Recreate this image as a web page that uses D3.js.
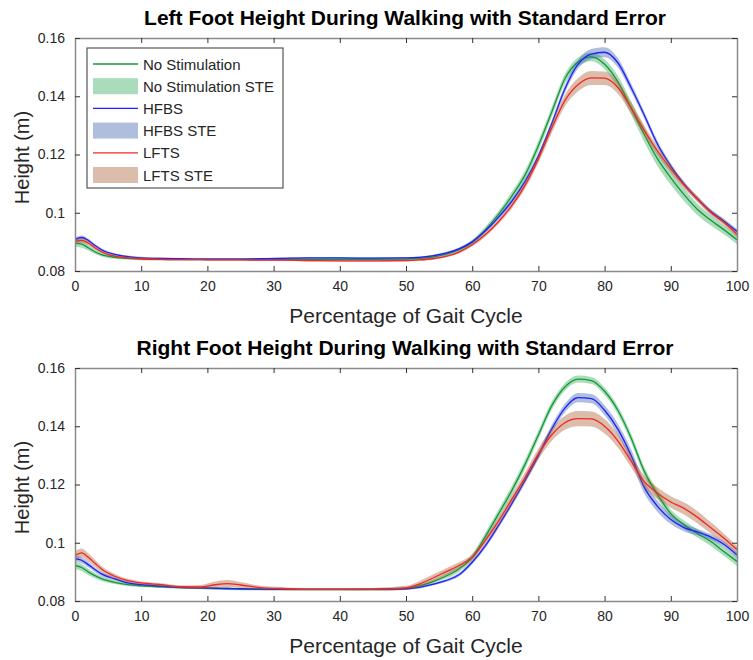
<!DOCTYPE html>
<html>
<head>
<meta charset="utf-8">
<script src="https://cdn.jsdelivr.net/npm/d3@7"></script>
<style>
  html, body { margin: 0; padding: 0; background: #fff; }
  svg { display: block; font-family: "Liberation Sans", Arial, Helvetica, sans-serif; }
</style>
</head>
<body>
<svg id="chart" width="753" height="660"></svg>
<script>
// Gait-cycle sample positions (% of cycle)
const gaitPct = [0,1,2,3,4,6,8,10,13,16,19,21,23,25,28,31,35,40,45,50,52,54,56,58,60,62,64,66,68,70,72,74,76,78,80,82,84,86,88,90,92,94,96,98,100];

// Left foot mean height (m)
const leftNoStim = [0.0895,0.0892,0.0880,0.0866,0.0856,0.0847,0.0843,0.0841,0.0840,0.0840,0.0840,0.0840,0.0840,0.0840,0.0840,0.0840,0.0840,0.0840,0.0840,0.0841,0.0843,0.0848,0.0857,0.0873,0.0899,0.0942,0.0995,0.1058,0.1130,0.1230,0.1345,0.1460,0.1518,0.1535,0.1510,0.1450,0.1360,0.1268,0.1185,0.1120,0.1062,0.1012,0.0975,0.0942,0.0907];
const leftHFBS   = [0.0908,0.0915,0.0905,0.0888,0.0873,0.0857,0.0849,0.0845,0.0843,0.0842,0.0841,0.0841,0.0841,0.0841,0.0842,0.0843,0.0845,0.0845,0.0844,0.0845,0.0847,0.0852,0.0861,0.0876,0.0900,0.0938,0.0985,0.1040,0.1108,0.1195,0.1305,0.1425,0.1510,0.1545,0.1551,0.1515,0.1430,0.1335,0.1235,0.1160,0.1098,0.1048,0.1005,0.0972,0.0936];
const leftLFTS   = [0.0900,0.0905,0.0896,0.0880,0.0866,0.0851,0.0845,0.0842,0.0840,0.0839,0.0839,0.0838,0.0838,0.0838,0.0837,0.0837,0.0836,0.0835,0.0835,0.0836,0.0838,0.0842,0.0850,0.0865,0.0890,0.0925,0.0970,0.1025,0.1095,0.1185,0.1290,0.1385,0.1440,0.1463,0.1462,0.1430,0.1360,0.1282,0.1212,0.1150,0.1095,0.1048,0.1002,0.0967,0.0925];

// Left foot standard error (m)
const leftNoStimSte = [0.0012,0.0012,0.0010,0.0008,0.0006,0.0005,0.0004,0.0004,0.0004,0.0004,0.0004,0.0004,0.0004,0.0004,0.0004,0.0004,0.0004,0.0004,0.0004,0.0004,0.0004,0.0004,0.0005,0.0006,0.0008,0.0010,0.0012,0.0014,0.0016,0.0017,0.0017,0.0016,0.0015,0.0015,0.0017,0.0020,0.0023,0.0025,0.0025,0.0024,0.0022,0.0020,0.0018,0.0016,0.0015];
const leftHFBSSte   = [0.0007,0.0007,0.0006,0.0005,0.0005,0.0004,0.0004,0.0004,0.0003,0.0003,0.0003,0.0003,0.0003,0.0003,0.0003,0.0003,0.0003,0.0003,0.0003,0.0003,0.0003,0.0004,0.0004,0.0005,0.0006,0.0007,0.0008,0.0009,0.0010,0.0011,0.0012,0.0013,0.0015,0.0017,0.0017,0.0016,0.0014,0.0012,0.0011,0.0010,0.0009,0.0008,0.0008,0.0008,0.0008];
const leftLFTSSte   = [0.0008,0.0008,0.0007,0.0006,0.0005,0.0004,0.0004,0.0004,0.0003,0.0003,0.0003,0.0003,0.0003,0.0003,0.0003,0.0003,0.0003,0.0003,0.0003,0.0003,0.0003,0.0004,0.0004,0.0005,0.0006,0.0007,0.0008,0.0010,0.0012,0.0014,0.0017,0.0020,0.0023,0.0024,0.0023,0.0021,0.0019,0.0017,0.0015,0.0013,0.0011,0.0010,0.0009,0.0009,0.0009];

// Right foot mean height (m)
const rightNoStim = [0.0922,0.0915,0.0900,0.0887,0.0877,0.0864,0.0856,0.0852,0.0849,0.0846,0.0844,0.0843,0.0842,0.0841,0.0840,0.0840,0.0840,0.0840,0.0841,0.0843,0.0852,0.0866,0.0885,0.0910,0.0950,0.1022,0.1100,0.1180,0.1270,0.1370,0.1470,0.1535,0.1562,0.1557,0.1520,0.1455,0.1360,0.1245,0.1165,0.1100,0.1062,0.1032,0.1005,0.0970,0.0936];
const rightHFBS   = [0.0945,0.0940,0.0925,0.0908,0.0893,0.0876,0.0862,0.0856,0.0851,0.0847,0.0845,0.0844,0.0843,0.0842,0.0841,0.0840,0.0840,0.0840,0.0840,0.0842,0.0847,0.0857,0.0870,0.0890,0.0933,0.0990,0.1060,0.1135,0.1215,0.1300,0.1390,0.1462,0.1498,0.1495,0.1455,0.1390,0.1300,0.1190,0.1125,0.1080,0.1052,0.1037,0.1020,0.0995,0.0958];
const rightLFTS   = [0.0955,0.0965,0.0950,0.0930,0.0910,0.0885,0.0870,0.0862,0.0856,0.0849,0.0848,0.0855,0.0860,0.0855,0.0846,0.0843,0.0840,0.0840,0.0840,0.0845,0.0858,0.0878,0.0900,0.0922,0.0950,0.1008,0.1075,0.1150,0.1225,0.1305,0.1370,0.1412,0.1426,0.1425,0.1400,0.1350,0.1280,0.1210,0.1170,0.1140,0.1118,0.1088,0.1052,0.1016,0.0976];

// Right foot standard error (m)
const rightNoStimSte = [0.0012,0.0012,0.0011,0.0009,0.0008,0.0006,0.0005,0.0004,0.0004,0.0004,0.0004,0.0004,0.0004,0.0004,0.0004,0.0004,0.0004,0.0004,0.0004,0.0004,0.0005,0.0006,0.0008,0.0010,0.0012,0.0014,0.0015,0.0016,0.0016,0.0015,0.0014,0.0013,0.0012,0.0012,0.0013,0.0014,0.0015,0.0015,0.0015,0.0014,0.0014,0.0014,0.0015,0.0015,0.0016];
const rightHFBSSte   = [0.0010,0.0010,0.0009,0.0008,0.0007,0.0006,0.0005,0.0004,0.0004,0.0004,0.0003,0.0003,0.0003,0.0003,0.0003,0.0003,0.0003,0.0003,0.0003,0.0003,0.0004,0.0004,0.0005,0.0006,0.0007,0.0008,0.0009,0.0010,0.0011,0.0012,0.0014,0.0015,0.0016,0.0016,0.0017,0.0019,0.0021,0.0021,0.0019,0.0016,0.0013,0.0011,0.0010,0.0010,0.0010];
const rightLFTSSte   = [0.0015,0.0015,0.0014,0.0012,0.0010,0.0008,0.0006,0.0005,0.0005,0.0005,0.0007,0.0011,0.0012,0.0010,0.0006,0.0005,0.0004,0.0004,0.0005,0.0007,0.0010,0.0012,0.0012,0.0011,0.0010,0.0011,0.0013,0.0015,0.0017,0.0019,0.0021,0.0024,0.0026,0.0026,0.0025,0.0023,0.0021,0.0020,0.0020,0.0020,0.0021,0.0021,0.0019,0.0016,0.0013];

// Axis ticks and labels
const xTicks = [0,10,20,30,40,50,60,70,80,90,100];
const yTicks = [0.08,0.1,0.12,0.14,0.16];
const yTickLabels = ["0.08","0.1","0.12","0.14","0.16"];
const xDomain = [0,100];
const yDomain = [0.08,0.16];

const seriesNames = ["No Stimulation","HFBS","LFTS"];
const lineColors = ["#139a37","#1f1fff","#f02828"];
const bandColors = ["#2ba858","#3a5daa","#a8582b"];
const bandOpacity = 0.4;

const panelTitles = [
  "Left Foot Height During Walking with Standard Error",
  "Right Foot Height During Walking with Standard Error"
];
const xLabel = "Percentage of Gait Cycle";
const yLabel = "Height (m)";

const panels = [
  { title: panelTitles[0], top: 38, bottom: 271, means: [leftNoStim, leftHFBS, leftLFTS], stes: [leftNoStimSte, leftHFBSSte, leftLFTSSte], legend: true },
  { title: panelTitles[1], top: 368, bottom: 601, means: [rightNoStim, rightHFBS, rightLFTS], stes: [rightNoStimSte, rightHFBSSte, rightLFTSSte], legend: false }
];

const svg = d3.select("#chart");
svg.append("rect").attr("width", 753).attr("height", 660).attr("fill", "#fff");

const left = 75, right = 737;
const axisColor = "#8a8a8a";
const textColor = "#262626";
const x = d3.scaleLinear().domain(xDomain).range([left, right]);

panels.forEach(p => {
  const y = d3.scaleLinear().domain(yDomain).range([p.bottom, p.top]);
  const g = svg.append("g");

  // clip so bands stay inside the axes box
  const clipId = "clip" + p.top;
  svg.append("clipPath").attr("id", clipId)
    .append("rect").attr("x", left).attr("y", p.top).attr("width", right - left).attr("height", p.bottom - p.top);

  const plot = g.append("g").attr("clip-path", `url(#${clipId})`);

  p.means.forEach((m, i) => {
    const pts = gaitPct.map((t, k) => ({ t, v: m[k], e: p.stes[i][k] }));
    const area = d3.area()
      .x(d => x(d.t))
      .y0(d => y(d.v - d.e))
      .y1(d => y(d.v + d.e))
      .curve(d3.curveMonotoneX);
    const line = d3.line()
      .x(d => x(d.t))
      .y(d => y(d.v))
      .curve(d3.curveMonotoneX);
    plot.append("path").datum(pts)
      .attr("d", area)
      .attr("fill", bandColors[i])
      .attr("fill-opacity", bandOpacity)
      .attr("stroke", "none");
    plot.append("path").datum(pts)
      .attr("d", line)
      .attr("fill", "none")
      .attr("stroke", lineColors[i])
      .attr("stroke-width", 1.3);
  });

  // axes: ticks point inward on all four sides
  const xAxisB = d3.axisBottom(x).tickValues(xTicks).tickSizeInner(-5).tickSizeOuter(0).tickPadding(10).tickFormat(d3.format("d"));
  const xAxisT = d3.axisTop(x).tickValues(xTicks).tickSizeInner(-5).tickSizeOuter(0).tickFormat("");
  const yAxisL = d3.axisLeft(y).tickValues(yTicks).tickSizeInner(-5).tickSizeOuter(0).tickPadding(10).tickFormat((d, i) => yTickLabels[i]);
  const yAxisR = d3.axisRight(y).tickValues(yTicks).tickSizeInner(-5).tickSizeOuter(0).tickFormat("");

  const styleAxis = sel => {
    sel.selectAll("path").attr("stroke", axisColor).attr("stroke-width", 1.5);
    sel.selectAll("line").attr("stroke", "#333").attr("stroke-width", 1);
    sel.selectAll("text").attr("fill", textColor).style("font-size", "14px").style("font-family", "Liberation Sans, Arial, sans-serif");
  };

  g.append("g").attr("transform", `translate(0,${p.bottom})`).call(xAxisB).call(styleAxis);
  g.append("g").attr("transform", `translate(0,${p.top})`).call(xAxisT).call(styleAxis);
  g.append("g").attr("transform", `translate(${left},0)`).call(yAxisL).call(styleAxis);
  g.append("g").attr("transform", `translate(${right},0)`).call(yAxisR).call(styleAxis);

  // title
  g.append("text")
    .attr("x", (left + right) / 2 - 1).attr("y", p.top - 13)
    .attr("text-anchor", "middle")
    .attr("fill", "#000")
    .style("font-weight", "bold").style("font-size", "21px")
    .text(p.title);

  // axis labels
  g.append("text")
    .attr("x", (left + right) / 2).attr("y", p.bottom + 52)
    .attr("text-anchor", "middle")
    .attr("fill", textColor)
    .style("font-size", "21px")
    .text(xLabel);
  g.append("text")
    .attr("transform", `translate(29,${(p.top + p.bottom) / 2 + 3}) rotate(-90)`)
    .attr("text-anchor", "middle")
    .attr("fill", textColor)
    .style("font-size", "20px")
    .text(yLabel);

  if (p.legend) {
    const lg = g.append("g");
    const lx = 87, ly = 48, lw = 196, lh = 140;
    lg.append("rect").attr("x", lx).attr("y", ly).attr("width", lw).attr("height", lh)
      .attr("fill", "#fff").attr("stroke", "#555").attr("stroke-width", 1.2);
    const rowH = 22.2;
    seriesNames.forEach((name, i) => {
      const yLine = ly + 16 + rowH * (2 * i);
      const yBand = ly + 16 + rowH * (2 * i + 1);
      lg.append("line").attr("x1", lx + 6).attr("x2", lx + 51).attr("y1", yLine).attr("y2", yLine)
        .attr("stroke", lineColors[i]).attr("stroke-width", 1.3);
      lg.append("text").attr("x", lx + 56).attr("y", yLine + 5.5)
        .attr("fill", textColor).style("font-size", "15px").text(name);
      lg.append("rect").attr("x", lx + 6).attr("y", yBand - 8).attr("width", 45).attr("height", 16)
        .attr("fill", bandColors[i]).attr("fill-opacity", bandOpacity);
      lg.append("text").attr("x", lx + 56).attr("y", yBand + 5.5)
        .attr("fill", textColor).style("font-size", "15px").text(name + " STE");
    });
  }
});
</script>
</body>
</html>
